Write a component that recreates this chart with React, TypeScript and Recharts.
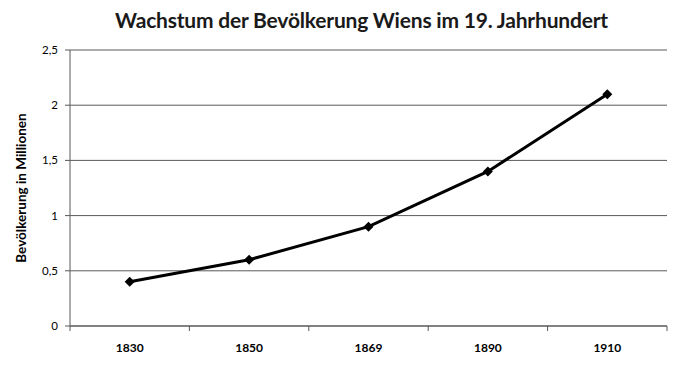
import { LineChart, Line, XAxis, YAxis, CartesianGrid } from "recharts";

const years = ["1830", "1850", "1869", "1890", "1910"];
const population = [0.4, 0.6, 0.9, 1.4, 2.1];
const yTicks = [0, 0.5, 1, 1.5, 2, 2.5];

const data = years.map((year, i) => ({ pos: i + 0.5, year, value: population[i] }));

// tick marks at category boundaries, labels at centres (like Excel)
const xTicks = [0, 0.5, 1, 1.5, 2, 2.5, 3, 3.5, 4, 4.5, 5];

const FONT = "Lato, 'Open Sans', sans-serif";
const AXIS = "#595959";

function XTick(props: any) {
  const { x, y, payload } = props;
  const v = payload.value as number;
  if (Number.isInteger(v)) {
    return <line x1={x} x2={x} y1={y} y2={y + 5} stroke={AXIS} strokeWidth={1} />;
  }
  const label = years[Math.floor(v)];
  return (
    <text x={x} y={y + 26} textAnchor="middle" fontSize={12} fontWeight="bold" fill="#000" fontFamily={FONT}>
      {label}
    </text>
  );
}

function Diamond(props: any) {
  const { cx, cy } = props;
  if (cx == null || cy == null) return null;
  const r = 5;
  return <polygon points={`${cx},${cy - r} ${cx + r},${cy} ${cx},${cy + r} ${cx - r},${cy}`} fill="#000" />;
}

function YLabel(props: any) {
  const { viewBox } = props;
  const cy = viewBox.y + viewBox.height / 2;
  return (
    <text
      x={26}
      y={cy}
      transform={`rotate(-90 26 ${cy})`}
      textAnchor="middle"
      fontSize={13.5}
      fontWeight="bold"
      fill="#000"
      fontFamily={FONT}
    >
      Bevölkerung in Millionen
    </text>
  );
}

export default function App() {
  return (
    <div style={{ position: "relative", width: 681, height: 366, margin: -8, background: "#fff", fontFamily: FONT }}>
      <div
        style={{
          position: "absolute",
          top: 7,
          left: 0,
          width: 681,
          textAlign: "center",
          fontSize: 21,
          letterSpacing: -0.2,
          fontWeight: "bold",
          color: "#1a1a1a",
          paddingLeft: 42,
          boxSizing: "border-box",
        }}
      >
        Wachstum der Bevölkerung Wiens im 19. Jahrhundert
      </div>
      <LineChart width={681} height={366} data={data} margin={{ top: 50, right: 14, left: 0, bottom: 10 }}>
        <CartesianGrid horizontal vertical={false} stroke={AXIS} strokeWidth={1} />
        <XAxis
          dataKey="pos"
          type="number"
          domain={[0, 5]}
          ticks={xTicks}
          interval={0}
          tick={<XTick />}
          tickLine={false}
          tickSize={0}
          tickMargin={0}
          height={30}
          axisLine={{ stroke: AXIS }}
        />
        <YAxis
          domain={[0, 2.5]}
          ticks={yTicks}
          interval={0}
          width={70}
          tickSize={5}
          tickMargin={7}
          tickLine={{ stroke: AXIS }}
          axisLine={{ stroke: AXIS }}
          tick={{ fontSize: 11.5, fill: "#000", fontFamily: FONT }}
          tickFormatter={(v: number) => String(v).replace(".", ",")}
          label={<YLabel />}
        />
        <Line
          dataKey="value"
          stroke="#000"
          strokeWidth={3}
          dot={<Diamond />}
          activeDot={false}
          isAnimationActive={false}
        />
      </LineChart>
    </div>
  );
}
